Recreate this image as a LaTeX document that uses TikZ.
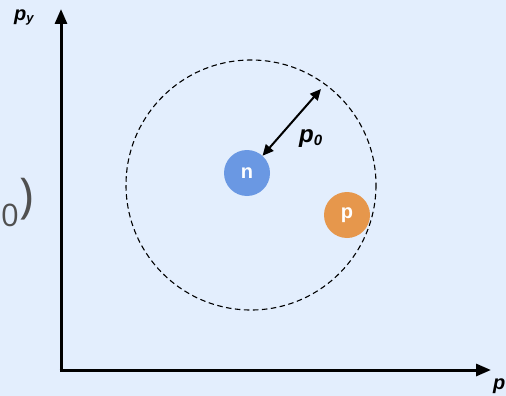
\documentclass[tikz,border=0pt]{standalone}
\usepackage{fontspec}
\setmainfont{Liberation Sans}
\newfontfamily\grayfont{Open Sans}
\usetikzlibrary{arrows.meta}
\definecolor{bgc}{HTML}{E3EEFD}
\definecolor{ncol}{HTML}{6A98E3}
\definecolor{pcol}{HTML}{E6974C}
\definecolor{txtgray}{HTML}{505050}
\tikzset{
  axis/.style={line width=3pt,-{Triangle[length=15pt,width=12pt]}},
  particle/.style={circle,minimum size=46pt,inner sep=0pt,text=white,font=\bfseries\fontsize{20}{20}\selectfont},
  lbl/.style={font=\bfseries\itshape\fontsize{20}{20}\selectfont,inner sep=0pt}
}
\begin{document}
\begin{tikzpicture}[x=1pt,y=-1pt]
\fill[bgc] (0,0) rectangle (506,396);
\useasboundingbox (0,0) rectangle (506,396);
\coordinate (O) at (61,370);
\coordinate (Ytop) at (61,9);
\coordinate (Xend) at (491,370);
\draw[axis] (O) -- (Ytop);
\draw[axis] ([xshift=-1.5pt]O) -- (Xend);
\node[lbl,anchor=base west] (py) at (14,21) {p\fontsize{13}{13}\selectfont\raisebox{-2pt}{y}};
\node[lbl,anchor=base west] (px) at (493,389) {p};
\draw[line width=1.1pt,dash pattern=on 5.5pt off 3.5pt] (251,185) circle (125);
\node[particle,fill=ncol] (n) at (247,173) {n};
\node[particle,fill=pcol] (p) at (347,215) {p};
\coordinate (atip) at (321,89);
\draw[line width=2pt,{Triangle[length=11pt,width=10pt]}-{Triangle[length=11pt,width=10pt]}] (n.48) -- (atip);
\node[font=\bfseries\itshape\fontsize{24}{24}\selectfont,anchor=base west,inner sep=0pt] (p0) at (299,142) {p\fontsize{15}{15}\selectfont\raisebox{-3pt}{0}};
\node[font=\grayfont\fontsize{31}{31}\selectfont,text=txtgray,anchor=base west,inner sep=0pt] (zero) at (1,226) {0};
\node[font=\grayfont\fontsize{48}{48}\selectfont,text=txtgray,anchor=base west,inner sep=0pt] (paren) at (19,212) {)};
\end{tikzpicture}
\end{document}
